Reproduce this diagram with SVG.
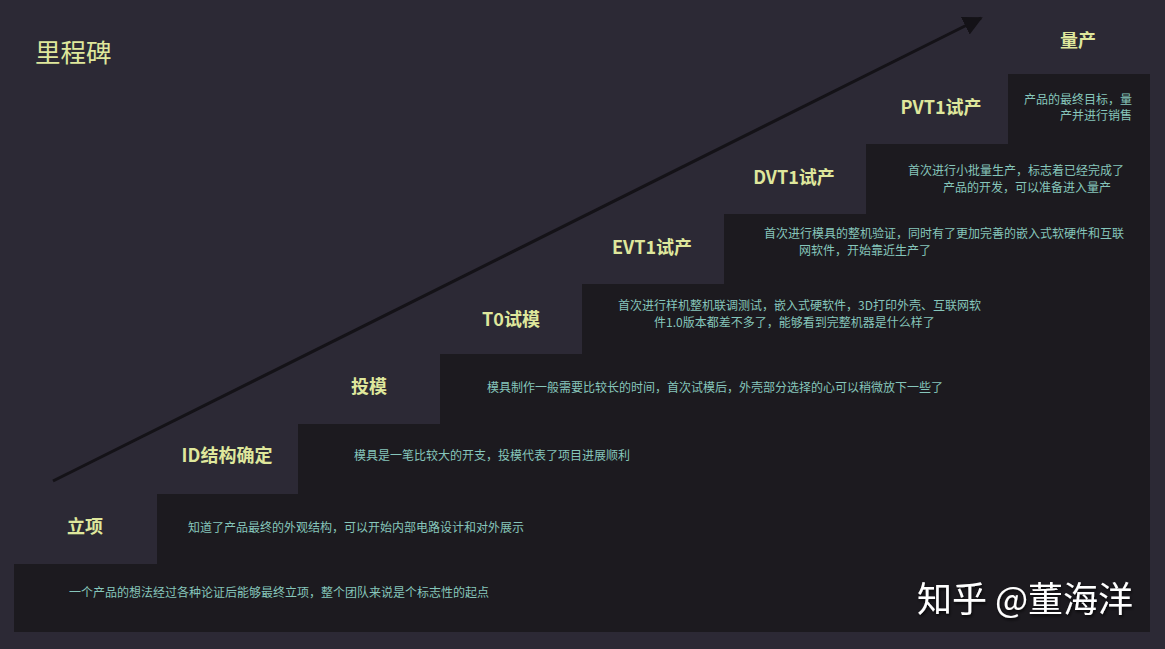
<svg xmlns="http://www.w3.org/2000/svg" width="1165" height="649" viewBox="0 0 1165 649">
  <defs>
    <style>
      .lbl { font-family: "Noto Sans CJK SC", "Liberation Sans", sans-serif; font-weight: bold; font-size: 18px; fill: #dfe79c; text-anchor: middle; }
      .desc { font-family: "Noto Sans CJK SC", "Liberation Serif", serif; font-size: 12px; fill: #86c6bb; }
      .title { font-family: "Noto Sans CJK SC", sans-serif; font-size: 25.5px; fill: #dfe79c; }
      .wm { font-family: "Noto Sans CJK SC", "Liberation Sans", sans-serif; font-size: 35px; fill: #ffffff; text-anchor: end; }
    </style>
    <marker id="ah" viewBox="0 0 10 10" refX="9" refY="5" markerWidth="6.5" markerHeight="6.5" markerUnits="strokeWidth" orient="auto">
      <path d="M0,0 L10,5 L0,10 z" fill="#141217"/>
    </marker>
    <filter id="sh" x="-5%" y="-20%" width="110%" height="140%">
      <feDropShadow dx="1" dy="2" stdDeviation="1.5" flood-color="#000" flood-opacity="0.7"/>
    </filter>
  </defs>
  <rect width="1165" height="649" fill="#2c2935"/>
  <path d="M14,564 H157 V494 H298 V424 H440 V354 H582 V284 H724 V214 H866 V144 H1008 V74 H1150 V632 H14 Z" fill="#1c1a1f"/>
  <text class="title" x="35" y="62">里程碑</text>
  <g id="connectors">
    <line x1="53" y1="481" x2="981" y2="18" stroke="#141217" stroke-width="3" marker-end="url(#ah)"/>
  </g>
  <g id="step1">
    <text class="lbl" x="85" y="533">立项</text>
    <text class="desc" x="69" y="597">一个产品的想法经过各种论证后能够最终立项，整个团队来说是个标志性的起点</text>
  </g>
  <g id="step2">
    <text class="lbl" x="227" y="462">ID结构确定</text>
    <text class="desc" x="188" y="532">知道了产品最终的外观结构，可以开始内部电路设计和对外展示</text>
  </g>
  <g id="step3">
    <text class="lbl" x="369" y="393">投模</text>
    <text class="desc" x="354" y="460">模具是一笔比较大的开支，投模代表了项目进展顺利</text>
  </g>
  <g id="step4">
    <text class="lbl" x="511" y="326">T0试模</text>
    <text class="desc" x="487" y="392">模具制作一般需要比较长的时间，首次试模后，外壳部分选择的心可以稍微放下一些了</text>
  </g>
  <g id="step5">
    <text class="lbl" x="652" y="254">EVT1试产</text>
    <text class="desc" x="618" y="310">首次进行样机整机联调测试，嵌入式硬软件，3D打印外壳、互联网软</text>
    <text class="desc" x="654" y="327">件1.0版本都差不多了，能够看到完整机器是什么样了</text>
  </g>
  <g id="step6">
    <text class="lbl" x="794" y="184">DVT1试产</text>
    <text class="desc" x="764" y="238">首次进行模具的整机验证，同时有了更加完善的嵌入式软硬件和互联</text>
    <text class="desc" x="799" y="255">网软件，开始靠近生产了</text>
  </g>
  <g id="step7">
    <text class="lbl" x="941" y="114">PVT1试产</text>
    <text class="desc" x="908" y="175">首次进行小批量生产，标志着已经完成了</text>
    <text class="desc" x="943" y="192">产品的开发，可以准备进入量产</text>
  </g>
  <g id="step8">
    <text class="lbl" x="1078" y="47">量产</text>
    <text class="desc" x="1132" y="104" text-anchor="end">产品的最终目标，量</text>
    <text class="desc" x="1132" y="120" text-anchor="end">产并进行销售</text>
  </g>
  <text class="wm" x="1133" y="612" filter="url(#sh)">知乎 @董海洋</text>
</svg>
